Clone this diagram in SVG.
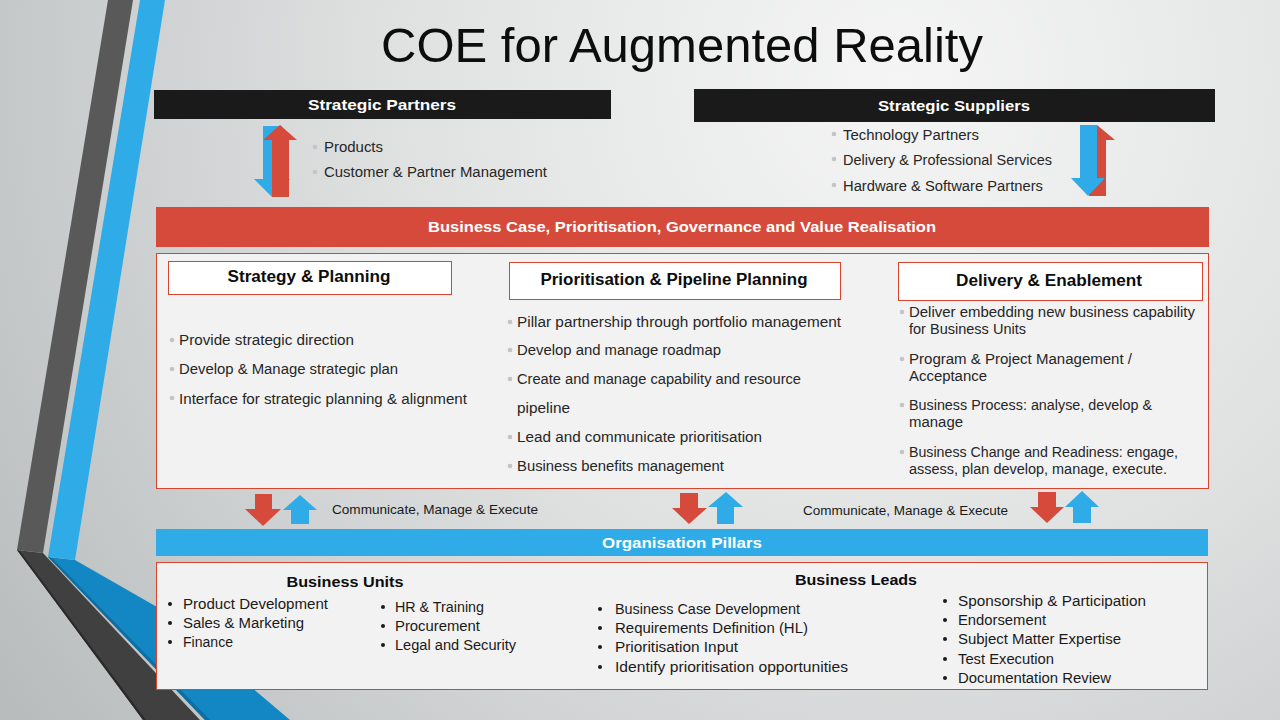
<svg xmlns="http://www.w3.org/2000/svg" width="1280" height="720" viewBox="0 0 1280 720">
  <defs>
    <radialGradient id="bg" cx="900" cy="80" r="1150" gradientUnits="userSpaceOnUse">
      <stop offset="0" stop-color="#f5f5f5"/>
      <stop offset="0.45" stop-color="#dfe1e1"/>
      <stop offset="1" stop-color="#b4b8b9"/>
    </radialGradient>
    <style>
      .t { font-family: "Liberation Sans", Arial, sans-serif; }
      .title { font-size: 48px; fill: #0d0d0d; }
      .hdr { font-size: 15px; font-weight: bold; fill: #ffffff; }
      .sub { font-size: 16px; font-weight: bold; fill: #0d0d0d; }
      .item { font-size: 14px; fill: #262626; }
      .small { font-size: 13px; fill: #1a1a1a; }
      .blk { font-size: 14px; fill: #1a1a1a; }
      .bh { font-size: 15px; font-weight: bold; fill: #0d0d0d; }
      .red { fill: #d64a3b; }
      .blue { fill: #2fabe8; }
      .panel { fill: #f2f2f2; stroke: #d9442f; stroke-width: 1; }
      .tab { fill: #ffffff; stroke: #d9442f; stroke-width: 1; }
      .dot { fill: #c4c4c4; }
      .bdot { fill: #1a1a1a; }
    </style>
  </defs>

  <!-- background -->
  <rect x="0" y="0" width="1280" height="720" fill="url(#bg)"/>

  <!-- decorative stripes on the left -->
  <g id="stripes">
    <polygon points="17,550 43,553 200,720 143,720" fill="#404040"/>
    <polygon points="17,550 20,551 146,720 143,720" fill="#2a2a2a"/>
    <polygon points="48,557 75,560 157,607 290,720 205,720" fill="#1287c3"/>
    <polygon points="48,557 52,558 210,720 205,720" fill="#0f6e9e"/>
    <polygon points="108,0 133,0 43,553 17,550" fill="#595959"/>
    <polygon points="140,0 165,0 75,560 48,557" fill="#2fabe8"/>
  </g>

  <!-- title -->
  <text class="t title" x="381" y="62" textLength="602" lengthAdjust="spacingAndGlyphs">COE for Augmented Reality</text>

  <!-- strategic partners -->
  <g id="strategic-partners">
    <rect x="154" y="90" width="457" height="29" fill="#1a1a1a"/>
    <text class="t hdr" x="382" y="110" text-anchor="middle" textLength="148" lengthAdjust="spacingAndGlyphs">Strategic Partners</text>
    <circle class="dot" cx="315" cy="147" r="2.3"/>
    <text class="t item" x="324" y="152" textLength="59" lengthAdjust="spacingAndGlyphs">Products</text>
    <circle class="dot" cx="315" cy="172" r="2.3"/>
    <text class="t item" x="324" y="177" textLength="223" lengthAdjust="spacingAndGlyphs">Customer &amp; Partner Management</text>
  </g>

  <!-- strategic suppliers -->
  <g id="strategic-suppliers">
    <rect x="694" y="89" width="521" height="33" fill="#1a1a1a"/>
    <text class="t hdr" x="954" y="111" text-anchor="middle" textLength="152" lengthAdjust="spacingAndGlyphs">Strategic Suppliers</text>
    <circle class="dot" cx="834" cy="134" r="2.3"/>
    <text class="t item" x="843" y="140" textLength="136" lengthAdjust="spacingAndGlyphs">Technology Partners</text>
    <circle class="dot" cx="834" cy="159" r="2.3"/>
    <text class="t item" x="843" y="165" textLength="209" lengthAdjust="spacingAndGlyphs">Delivery &amp; Professional Services</text>
    <circle class="dot" cx="834" cy="185" r="2.3"/>
    <text class="t item" x="843" y="191" textLength="200" lengthAdjust="spacingAndGlyphs">Hardware &amp; Software Partners</text>
  </g>

  <!-- business case bar -->
  <g id="business-case">
    <rect x="156" y="207" width="1053" height="40" class="red"/>
    <text class="t hdr" x="682" y="232" text-anchor="middle" textLength="508" lengthAdjust="spacingAndGlyphs">Business Case, Prioritisation, Governance and Value Realisation</text>
  </g>

  <!-- main panel -->
  <rect id="main-panel" x="156.5" y="253.5" width="1052" height="235" class="panel"/>

  <g id="strategy-planning">
    <rect x="168.5" y="261.5" width="283" height="33" class="tab"/>
    <text class="t sub" x="309" y="282" text-anchor="middle" textLength="163" lengthAdjust="spacingAndGlyphs">Strategy &amp; Planning</text>
    <circle class="dot" cx="172" cy="340" r="2.3"/>
    <text class="t item" x="179" y="345" textLength="175" lengthAdjust="spacingAndGlyphs">Provide strategic direction</text>
    <circle class="dot" cx="172" cy="369" r="2.3"/>
    <text class="t item" x="179" y="374" textLength="219" lengthAdjust="spacingAndGlyphs">Develop &amp; Manage strategic plan</text>
    <circle class="dot" cx="172" cy="398" r="2.3"/>
    <text class="t item" x="179" y="404" textLength="288" lengthAdjust="spacingAndGlyphs">Interface for strategic planning &amp; alignment</text>
  </g>

  <g id="prioritisation-pipeline">
    <rect x="509.5" y="262.5" width="331" height="37" class="tab"/>
    <text class="t sub" x="674" y="285" text-anchor="middle" textLength="267" lengthAdjust="spacingAndGlyphs">Prioritisation &amp; Pipeline Planning</text>
    <circle class="dot" cx="510" cy="322" r="2.3"/>
    <text class="t item" x="517" y="327" textLength="324" lengthAdjust="spacingAndGlyphs">Pillar partnership through portfolio management</text>
    <circle class="dot" cx="510" cy="350" r="2.3"/>
    <text class="t item" x="517" y="355" textLength="204" lengthAdjust="spacingAndGlyphs">Develop and manage roadmap</text>
    <circle class="dot" cx="510" cy="379" r="2.3"/>
    <text class="t item" x="517" y="384" textLength="284" lengthAdjust="spacingAndGlyphs">Create and manage capability and resource</text>
    <text class="t item" x="517" y="413" textLength="53" lengthAdjust="spacingAndGlyphs">pipeline</text>
    <circle class="dot" cx="510" cy="437" r="2.3"/>
    <text class="t item" x="517" y="442" textLength="245" lengthAdjust="spacingAndGlyphs">Lead and communicate prioritisation</text>
    <circle class="dot" cx="510" cy="466" r="2.3"/>
    <text class="t item" x="517" y="471" textLength="207" lengthAdjust="spacingAndGlyphs">Business  benefits management</text>
  </g>

  <g id="delivery-enablement">
    <rect x="898.5" y="262.5" width="304" height="38" class="tab"/>
    <text class="t sub" x="1049" y="286" text-anchor="middle" textLength="186" lengthAdjust="spacingAndGlyphs">Delivery &amp; Enablement</text>
    <circle class="dot" cx="902" cy="312" r="2.3"/>
    <text class="t item" x="909" y="317" textLength="286" lengthAdjust="spacingAndGlyphs">Deliver embedding new business capability</text>
    <text class="t item" x="909" y="334" textLength="117" lengthAdjust="spacingAndGlyphs">for Business Units</text>
    <circle class="dot" cx="902" cy="359" r="2.3"/>
    <text class="t item" x="909" y="364" textLength="223" lengthAdjust="spacingAndGlyphs">Program &amp; Project Management /</text>
    <text class="t item" x="909" y="381" textLength="78" lengthAdjust="spacingAndGlyphs">Acceptance</text>
    <circle class="dot" cx="902" cy="405" r="2.3"/>
    <text class="t item" x="909" y="410" textLength="243" lengthAdjust="spacingAndGlyphs">Business Process: analyse, develop &amp;</text>
    <text class="t item" x="909" y="427" textLength="54" lengthAdjust="spacingAndGlyphs">manage</text>
    <circle class="dot" cx="902" cy="452" r="2.3"/>
    <text class="t item" x="909" y="457" textLength="269" lengthAdjust="spacingAndGlyphs">Business Change and Readiness: engage,</text>
    <text class="t item" x="909" y="474" textLength="258" lengthAdjust="spacingAndGlyphs">assess,  plan develop, manage, execute.</text>
  </g>

  <!-- flow arrows -->
  <g id="connectors">
    <!-- partners: down (blue) and up (red) -->
    <polygon class="blue" points="263,126 282,126 282,179 290,179 272,197 254,179 263,179"/>
    <polygon class="red" points="280,125 297,140 289,140 289,197 272,197 272,140 263,140"/>
    <!-- suppliers: up (red) behind down (blue) -->
    <polygon class="red" points="1097,125 1115,140 1106,140 1106,196 1089,196 1089,140 1080,140"/>
    <polygon class="blue" points="1080,125 1097,125 1097,178 1105,178 1088,196 1071,178 1080,178"/>
    <!-- communicate, manage & execute pairs -->
    <polygon class="red" points="255,494 272,494 272,509 281,509 263,526 245,509 255,509"/>
    <polygon class="blue" points="300,495 317,510 309,510 309,524 291,524 291,510 283,510"/>
    <polygon class="red" points="680,493 698,493 698,508 707,508 689,524 672,508 680,508"/>
    <polygon class="blue" points="726,492 743,507 734,507 734,524 717,524 717,507 708,507"/>
    <polygon class="red" points="1038,492 1056,492 1056,507 1064,507 1047,523 1030,507 1038,507"/>
    <polygon class="blue" points="1082,491 1099,507 1091,507 1091,523 1073,523 1073,507 1065,507"/>
    <text class="t small" x="332" y="514" textLength="206" lengthAdjust="spacingAndGlyphs">Communicate, Manage &amp; Execute</text>
    <text class="t small" x="803" y="515" textLength="205" lengthAdjust="spacingAndGlyphs">Communicate, Manage &amp; Execute</text>
  </g>

  <!-- organisation pillars -->
  <g id="organisation-pillars">
    <rect x="156" y="529" width="1052" height="27" class="blue"/>
    <text class="t hdr" x="682" y="548" text-anchor="middle" textLength="160" lengthAdjust="spacingAndGlyphs">Organisation Pillars</text>
  </g>

  <rect id="pillars-panel" x="156.5" y="562.5" width="1051" height="127" class="panel"/>

  <g id="business-units">
    <text class="t bh" x="345" y="587" text-anchor="middle" textLength="117" lengthAdjust="spacingAndGlyphs">Business Units</text>
    <circle class="bdot" cx="170" cy="604" r="2"/>
    <text class="t blk" x="183" y="609" textLength="145" lengthAdjust="spacingAndGlyphs">Product Development</text>
    <circle class="bdot" cx="170" cy="623" r="2"/>
    <text class="t blk" x="183" y="628" textLength="121" lengthAdjust="spacingAndGlyphs">Sales &amp; Marketing</text>
    <circle class="bdot" cx="170" cy="642" r="2"/>
    <text class="t blk" x="183" y="647" textLength="50" lengthAdjust="spacingAndGlyphs">Finance</text>
    <circle class="bdot" cx="383" cy="607" r="2"/>
    <text class="t blk" x="395" y="612" textLength="89" lengthAdjust="spacingAndGlyphs">HR &amp; Training</text>
    <circle class="bdot" cx="383" cy="626" r="2"/>
    <text class="t blk" x="395" y="631" textLength="85" lengthAdjust="spacingAndGlyphs">Procurement</text>
    <circle class="bdot" cx="383" cy="645" r="2"/>
    <text class="t blk" x="395" y="650" textLength="121" lengthAdjust="spacingAndGlyphs">Legal and Security</text>
  </g>

  <g id="business-leads">
    <text class="t bh" x="856" y="585" text-anchor="middle" textLength="122" lengthAdjust="spacingAndGlyphs">Business Leads</text>
    <circle class="bdot" cx="600" cy="609" r="2"/>
    <text class="t blk" x="615" y="614" textLength="185" lengthAdjust="spacingAndGlyphs">Business Case Development</text>
    <circle class="bdot" cx="600" cy="628" r="2"/>
    <text class="t blk" x="615" y="633" textLength="193" lengthAdjust="spacingAndGlyphs">Requirements Definition (HL)</text>
    <circle class="bdot" cx="600" cy="647" r="2"/>
    <text class="t blk" x="615" y="652" textLength="123" lengthAdjust="spacingAndGlyphs">Prioritisation Input</text>
    <circle class="bdot" cx="600" cy="667" r="2"/>
    <text class="t blk" x="615" y="672" textLength="233" lengthAdjust="spacingAndGlyphs">Identify prioritisation opportunities</text>
    <circle class="bdot" cx="945" cy="601" r="2"/>
    <text class="t blk" x="958" y="606" textLength="188" lengthAdjust="spacingAndGlyphs">Sponsorship &amp; Participation</text>
    <circle class="bdot" cx="945" cy="620" r="2"/>
    <text class="t blk" x="958" y="625" textLength="88" lengthAdjust="spacingAndGlyphs">Endorsement</text>
    <circle class="bdot" cx="945" cy="639" r="2"/>
    <text class="t blk" x="958" y="644" textLength="163" lengthAdjust="spacingAndGlyphs">Subject Matter Expertise</text>
    <circle class="bdot" cx="945" cy="659" r="2"/>
    <text class="t blk" x="958" y="664" textLength="96" lengthAdjust="spacingAndGlyphs">Test Execution</text>
    <circle class="bdot" cx="945" cy="678" r="2"/>
    <text class="t blk" x="958" y="683" textLength="153" lengthAdjust="spacingAndGlyphs">Documentation Review</text>
  </g>
</svg>
